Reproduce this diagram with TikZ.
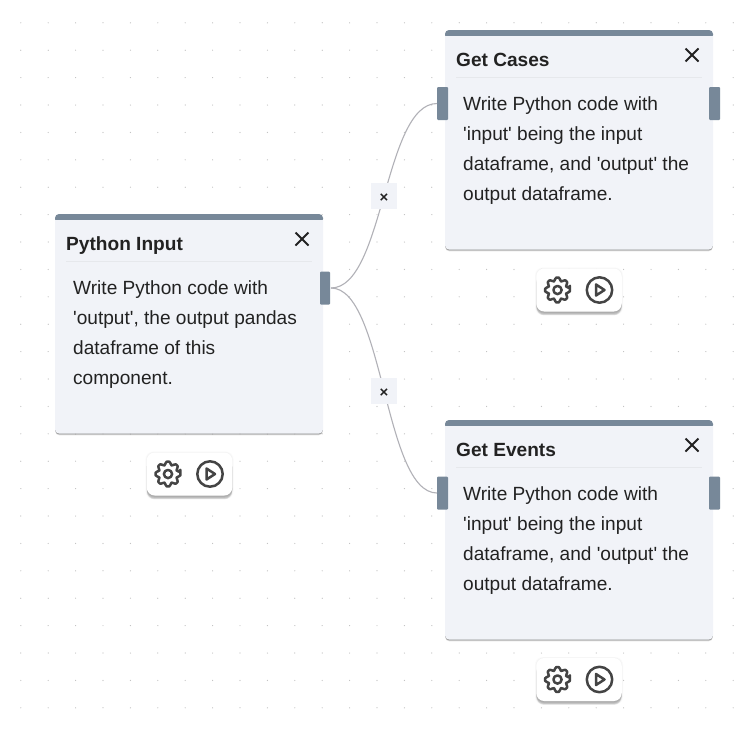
\documentclass[tikz,border=0pt]{standalone}
\usepackage{fontspec}
\setmainfont[Ligatures=TeXOff]{Liberation Sans}
\usetikzlibrary{calc}
\definecolor{barc}{HTML}{778899}
\definecolor{cardc}{HTML}{F1F3F8}
\definecolor{linec}{HTML}{E6E8EC}
\definecolor{edgec}{HTML}{B1B1B7}
\definecolor{inkc}{HTML}{222222}
\definecolor{iconc}{HTML}{444444}
\definecolor{dotc}{HTML}{BEBEBE}
\tikzset{
  cardbox/.style={draw=none,fill=cardc,rounded corners=4pt,minimum width=268pt,minimum height=219.5pt,inner sep=0pt,outer sep=0pt,anchor=north west},
  titletxt/.style={anchor=base west,inner sep=0pt,font=\fontsize{19.1}{22}\selectfont\bfseries,text=inkc},
  bodytxt/.style={anchor=north west,inner sep=0pt,align=left,text=inkc,font=\fontsize{19.08}{30}\selectfont},
  porthandle/.style={fill=barc,draw=none,rounded corners=1pt,minimum width=11pt,minimum height=33pt,inner sep=0pt,outer sep=0pt},
  toolbox/.style={fill=white,draw=none,rounded corners=8pt,minimum width=85.5pt,minimum height=43pt,inner sep=0pt,outer sep=0pt},
  edgelabel/.style={fill=cardc,draw=none,minimum width=26pt,minimum height=26pt,inner sep=0pt},
  edgemark/.style={inner sep=0pt,text=inkc,font=\fontsize{15}{15}\selectfont\bfseries},
  wire/.style={draw=edgec,line width=1.1pt},
  closeicon/.style={draw=inkc,line width=1.9pt},
  iconline/.style={draw=iconc,line width=2.5pt,line cap=round,line join=round},
}
% #1 name, #2 x, #3 y, #4 title, #5 body
\newcommand{\flowcard}[5]{%
  \foreach \k/\o in {3/.10,2/.17,1/.28}{
    \fill[black,opacity=\o,rounded corners=4pt] (#2+.2,#3+10) rectangle (#2+268-.2,#3+219.5+\k*.6);
  }
  \node[cardbox] (#1) at (#2,#3) {};
  \fill[barc,rounded corners=4pt] (#2,#3+9) -- (#2,#3) -- (#2+268,#3) -- (#2+268,#3+9) -- cycle;
  \fill[cardc] (#2,#3+5.7) rectangle (#2+268,#3+11);
  \node[titletxt] (#1title) at (#2+11,#3+36.5) {#4};
  \draw[linec,line width=1pt] (#2+11,#3+47) -- (#2+257,#3+47);
  \draw[closeicon] (#2+240.5,#3+18.5) -- (#2+253.5,#3+31.5) (#2+253.5,#3+18.5) -- (#2+240.5,#3+31.5);
  \node[bodytxt] (#1body) at (#2+18,#3+66.4) {#5};
}
% #1 name, #2 cx, #3 cy
\newcommand{\flowtools}[3]{%
  \foreach \k/\o in {3/.012,2/.015,1/.02}{
    \fill[black,opacity=\o,rounded corners=8pt] (#2-42.75-\k*.5,#3-21.5-\k*.4) rectangle (#2+42.75+\k*.5,#3+25.2);
  }
  \foreach \k/\o in {4/.05,3/.07,2/.09,1/.10}{
    \fill[black,opacity=\o,rounded corners=8pt] (#2-42.75,#3-15) rectangle (#2+42.75,#3+26-\k*.8);
  }
  \node[toolbox] (#1) at (#2,#3) {};
  \draw[iconline,rounded corners=1.5pt] (#2-21.5,#3) ++(-12:12.7)
    \foreach \a in {0,45,...,315}{
      -- ($(#2-21.5,#3)+(\a-12:12.7)$) -- ($(#2-21.5,#3)+(\a+12:12.7)$)
      -- ($(#2-21.5,#3)+(\a+13.5:9.4)$) -- ($(#2-21.5,#3)+(\a+31.5:9.4)$)
    } -- cycle;
  \draw[iconline] (#2-21.5,#3) circle[radius=4.1];
  \draw[iconline] (#2+20.5,#3) circle[radius=12.7];
  \draw[iconline] (#2+17,#3-5.5) -- (#2+25.5,#3) -- (#2+17,#3+5.5) -- cycle;
}
\begin{document}
\begin{tikzpicture}[x=1pt,y=-1pt]
\useasboundingbox (0,0) rectangle (752,729);
\fill[white] (0,0) rectangle (752,729);
\foreach \i in {0,...,26}{\foreach \j in {0,...,25}{
  \fill[dotc] (20.8+27.4*\i,22.8+27.4*\j) circle[radius=.6];
}}
\flowcard{py}{55}{214}{Python Input}{Write Python code with\\'output', the output pandas\\dataframe of this\\component.}
\flowcard{cases}{445}{30}{Get Cases}{Write Python code with\\'input' being the input\\dataframe, and 'output' the\\output dataframe.}
\flowcard{events}{445}{420}{Get Events}{Write Python code with\\'input' being the input\\dataframe, and 'output' the\\output dataframe.}
\flowtools{pytools}{189.5}{474}
\flowtools{casetools}{579}{290}
\flowtools{eventtools}{579}{679.5}
\node[porthandle,minimum width=10pt] (pyout) at (325,288) {};
\node[porthandle] (casesin) at (442.5,103.5) {};
\node[porthandle] (casesout) at (714.5,103.5) {};
\node[porthandle] (eventsin) at (442.5,493) {};
\node[porthandle] (eventsout) at (714.5,493) {};
\coordinate (wirestart) at ($(pyout.east)+(1,0)$);
\draw[wire] (wirestart) .. controls +(53,0) and ($(casesin.west)+(-53,0)$) .. (casesin.west);
\draw[wire] (wirestart) .. controls +(53,0) and ($(eventsin.west)+(-53,0)$) .. (eventsin.west);
\node[edgelabel] (edgea) at (384,196) {};
\node[edgemark] at (384,198) {×};
\node[edgelabel] (edgeb) at (384,391) {};
\node[edgemark] at (384,393) {×};
\end{tikzpicture}
\end{document}
